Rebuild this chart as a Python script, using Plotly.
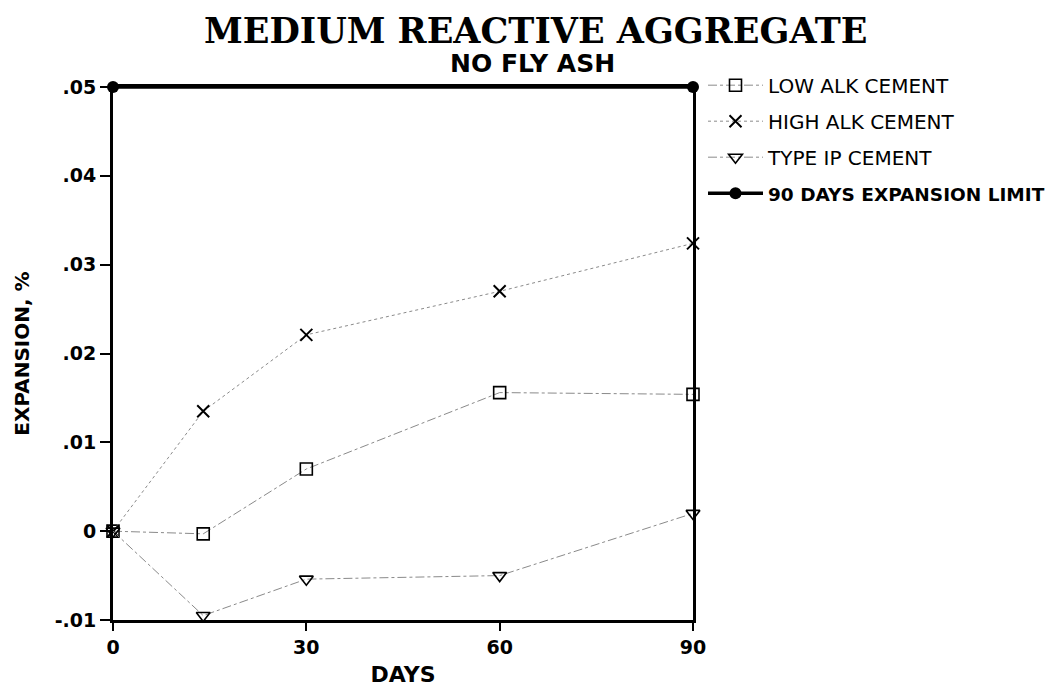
import plotly.graph_objects as go

# Test ages (days) and measured expansion (%)
days = [0, 14, 30, 60, 90]
low_alk = [0.0, -0.0003, 0.0070, 0.0156, 0.0154]
high_alk = [0.0, 0.0135, 0.0221, 0.0270, 0.0324]
type_ip = [0.0, -0.0095, -0.0054, -0.0050, 0.0020]

limit_days = [0, 90]
limit_value = [0.05, 0.05]

y_ticks = [-0.01, 0.0, 0.01, 0.02, 0.03, 0.04, 0.05]
y_tick_text = ["-.01", "0", ".01", ".02", ".03", ".04", ".05"]
x_ticks = [0, 30, 60, 90]

series_color = "#8a8a8a"
sans = "DejaVu Sans, sans-serif"

fig = go.Figure()

fig.add_trace(go.Scatter(
    x=days, y=low_alk, name="LOW ALK CEMENT", mode="lines+markers", legendgroup="a",
    line=dict(color=series_color, width=1, dash="dashdot"),
    marker=dict(symbol="square-open", size=12, color="black", line=dict(width=1.6)),
    cliponaxis=False,
))
fig.add_trace(go.Scatter(
    x=days, y=high_alk, name="HIGH ALK CEMENT", mode="lines+markers", legendgroup="b",
    line=dict(color=series_color, width=1, dash="dot"),
    marker=dict(symbol="x-thin-open", size=12, color="black", line=dict(width=2, color="black")),
    cliponaxis=False,
))
fig.add_trace(go.Scatter(
    x=days, y=type_ip, name="TYPE IP CEMENT", mode="lines+markers", legendgroup="c",
    line=dict(color=series_color, width=1, dash="dashdot"),
    marker=dict(symbol="triangle-down-open", size=12, color="black", line=dict(width=1.6)),
    cliponaxis=False,
))
fig.add_trace(go.Scatter(
    x=limit_days, y=limit_value,
    name='<b><span style="font-size:18.5px">90 DAYS EXPANSION LIMIT</span></b>',
    mode="lines+markers", legendgroup="d",
    line=dict(color="black", width=3.5),
    marker=dict(symbol="circle", size=12, color="black"),
    cliponaxis=False,
))

axis_font = dict(family=sans, size=19, color="black")

fig.update_layout(
    width=1059, height=694,
    margin=dict(l=113, r=366, t=87, b=74, autoexpand=False),
    paper_bgcolor="white", plot_bgcolor="white",
    showlegend=True,
    legend=dict(
        x=(703 - 113) / 580, y=1.04, xanchor="left", yanchor="top",
        font=dict(family=sans, size=20, color="black"),
        itemwidth=55, tracegroupgap=7, bgcolor="rgba(0,0,0,0)",
    ),
    annotations=[
        dict(text="<b>MEDIUM REACTIVE AGGREGATE</b>", xref="paper", yref="paper",
             x=(535 - 113) / 580, y=1.0, yshift=57, xanchor="center", yanchor="middle",
             showarrow=False,
             font=dict(family="DejaVu Serif, serif", size=35, color="black")),
        dict(text="<b>NO FLY ASH</b>", xref="paper", yref="paper",
             x=(532 - 113) / 580, y=1.0, yshift=24, xanchor="center", yanchor="middle",
             showarrow=False,
             font=dict(family=sans, size=25, color="black")),
    ],
)

fig.update_xaxes(
    range=[0, 90], tickvals=x_ticks, ticktext=[f"<b>{v}</b>" for v in x_ticks],
    ticks="outside", ticklen=8, tickwidth=2, tickcolor="black",
    showline=True, linewidth=3, linecolor="black", mirror=True,
    showgrid=False, zeroline=False, tickfont=axis_font,
    title=dict(text="<b>DAYS</b>", font=dict(family=sans, size=22, color="black"), standoff=10),
)
fig.update_yaxes(
    range=[-0.01, 0.05], tickvals=y_ticks, ticktext=[f"<b>{t}</b>" for t in y_tick_text],
    ticks="outside", ticklen=10, tickwidth=2, tickcolor="black",
    showline=True, linewidth=3, linecolor="black", mirror=True,
    showgrid=False, zeroline=False, tickfont=axis_font,
    title=dict(text="<b>EXPANSION, %</b>", font=dict(family=sans, size=20, color="black"), standoff=20),
)

fig.write_html("out.html")
